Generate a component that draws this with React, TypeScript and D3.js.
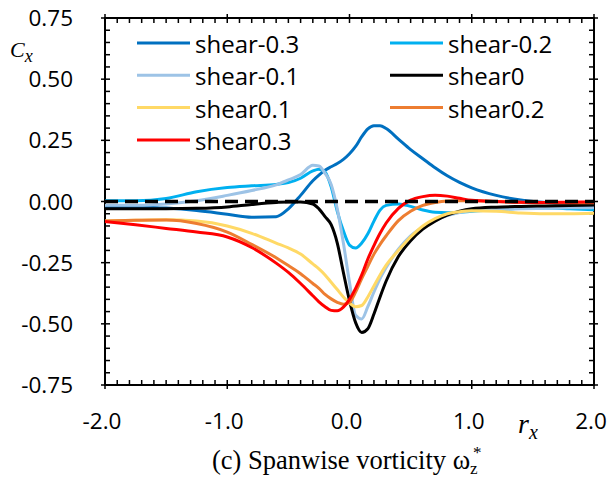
import React, { useEffect, useRef } from "react";
import * as d3 from "d3";

// r_x positions where curves were sampled
const rx = [
  -2, -1.75, -1.5, -1.25, -1.0, -0.8, -0.6, -0.5, -0.4, -0.3, -0.25, -0.2, -0.15, -0.1, -0.05, 0, 0.05, 0.1, 0.15,
  0.2, 0.25, 0.3, 0.4, 0.5, 0.6, 0.7, 0.8, 0.9, 1.0, 1.2, 1.4, 1.6, 1.8, 2.0,
];

const shearM03 = [
  -0.02, -0.022, -0.027, -0.037, -0.052, -0.064, -0.062, -0.03, 0.025, 0.085, 0.108, 0.128, 0.142, 0.155, 0.172, 0.195,
  0.225, 0.265, 0.297, 0.31, 0.31, 0.298, 0.255, 0.212, 0.175, 0.138, 0.105, 0.078, 0.056, 0.025, 0.006, -0.004, -0.012,
  -0.02,
];
const shearM02 = [
  0.003, 0.003, 0.012, 0.04, 0.057, 0.064, 0.07, 0.077, 0.095, 0.125, 0.132, 0.12, 0.06, -0.04, -0.12, -0.178, -0.19,
  -0.17, -0.132, -0.08, -0.035, -0.016, -0.01, -0.02, -0.035, -0.044, -0.046, -0.044, -0.04, -0.034, -0.028, -0.027,
  -0.03, -0.034,
];
const shearM01 = [
  -0.015, -0.015, -0.01, 0.003, 0.025, 0.045, 0.068, 0.088, 0.11, 0.148, 0.145, 0.115, 0.07, -0.03, -0.17, -0.33,
  -0.465, -0.48, -0.43, -0.37, -0.315, -0.27, -0.195, -0.14, -0.105, -0.078, -0.058, -0.045, -0.038, -0.033, -0.03,
  -0.028, -0.026, -0.025,
];
const shear0 = [
  -0.03, -0.03, -0.03, -0.028, -0.022, -0.012, -0.004, -0.002, -0.002, -0.01, -0.03, -0.062, -0.095, -0.17, -0.29,
  -0.405, -0.495, -0.535, -0.52, -0.46, -0.39, -0.325, -0.225, -0.16, -0.113, -0.08, -0.056, -0.04, -0.03, -0.023,
  -0.02, -0.018, -0.016, -0.014,
];
const shearP01 = [
  -0.08, -0.077, -0.075, -0.08, -0.1, -0.13, -0.17, -0.19, -0.215, -0.255, -0.275, -0.3, -0.33, -0.36, -0.39, -0.415,
  -0.43, -0.425, -0.39, -0.345, -0.3, -0.26, -0.2, -0.145, -0.1, -0.07, -0.05, -0.042, -0.038, -0.04, -0.047, -0.05,
  -0.05, -0.048,
];
const shearP02 = [
  -0.08, -0.077, -0.076, -0.09, -0.125, -0.175, -0.23, -0.262, -0.295, -0.335, -0.355, -0.38, -0.398, -0.412, -0.42,
  -0.412, -0.37, -0.315, -0.265, -0.215, -0.175, -0.14, -0.078, -0.04, -0.016, -0.004, 0.002, 0.003, 0.003, 0.0,
  -0.003, -0.005, -0.005, -0.005,
];
const shearP03 = [
  -0.082, -0.095, -0.11, -0.125, -0.145, -0.188, -0.252, -0.29, -0.335, -0.385, -0.41, -0.43, -0.445, -0.447, -0.432,
  -0.4, -0.355, -0.3, -0.235, -0.18, -0.13, -0.088, -0.028, 0.006, 0.02, 0.026, 0.022, 0.013, 0.005, 0.0, -0.003,
  -0.004, -0.003, -0.002,
];

const seriesNames = ["shear-0.3", "shear-0.2", "shear-0.1", "shear0", "shear0.1", "shear0.2", "shear0.3"];
const seriesValues = [shearM03, shearM02, shearM01, shear0, shearP01, shearP02, shearP03];
const seriesColors = ["#0070C0", "#00B0F0", "#9DC3E6", "#000000", "#FFD966", "#ED7D31", "#FF0000"];

const xTicks = [-2, -1, 0, 1, 2];
const yTicks = [0.75, 0.5, 0.25, 0, -0.25, -0.5, -0.75];

const App = () => {
  const ref = useRef<SVGSVGElement>(null);

  useEffect(() => {
    const svg = d3.select(ref.current);
    svg.selectAll("*").remove();

    const left = 105,
      right = 594,
      top = 18,
      bottom = 385;
    const x = d3.scaleLinear().domain([-2, 2]).range([left, right]);
    const y = d3.scaleLinear().domain([-0.75, 0.75]).range([bottom, top]);
    const font = "'Open Sans', sans-serif";
    const fmt = (d: number, n: number) => d.toFixed(n); // plain hyphen minus like Excel

    // frame
    svg
      .append("rect")
      .attr("x", left)
      .attr("y", top)
      .attr("width", right - left)
      .attr("height", bottom - top)
      .attr("fill", "none")
      .attr("stroke", "#000")
      .attr("stroke-width", 2);

    // tick marks on all four sides, pointing inward
    const ticks = svg.append("g").attr("stroke", "#000").attr("stroke-width", 1.5);
    d3.range(0, 41).forEach((i) => {
      const v = -2 + i * 0.1;
      const major = i % 10 === 0;
      const px = x(v);
      ticks.append("line").attr("x1", px).attr("x2", px).attr("y1", bottom + (major ? 4 : 0)).attr("y2", bottom - 5);
      ticks.append("line").attr("x1", px).attr("x2", px).attr("y1", top - (major ? 4 : 0)).attr("y2", top + 5);
    });
    d3.range(0, 31).forEach((i) => {
      const v = -0.75 + i * 0.05;
      const major = i % 5 === 0;
      const py = y(v);
      ticks.append("line").attr("y1", py).attr("y2", py).attr("x1", left - (major ? 4 : 0)).attr("x2", left + 5);
      ticks.append("line").attr("y1", py).attr("y2", py).attr("x1", right + (major ? 4 : 0)).attr("x2", right - 5);
    });

    // tick labels
    svg
      .append("g")
      .selectAll("text")
      .data(yTicks)
      .join("text")
      .attr("x", 73)
      .attr("y", (d) => y(d) + 8)
      .attr("text-anchor", "end")
      .style("font-family", font)
      .style("font-size", "22.5px")
      .text((d) => fmt(d, 2));

    svg
      .append("g")
      .selectAll("text")
      .data(xTicks)
      .join("text")
      .attr("x", (d) => x(d) - 3)
      .attr("y", 429)
      .attr("text-anchor", "middle")
      .style("font-family", font)
      .style("font-size", "22.5px")
      .text((d) => fmt(d, 1));

    // curves
    const line = d3
      .line<number>()
      .x((d, i) => x(rx[i]))
      .y((d) => y(d))
      .curve(d3.curveMonotoneX);

    seriesValues.forEach((vals, k) => {
      svg
        .append("path")
        .attr("d", line(vals))
        .attr("fill", "none")
        .attr("stroke", seriesColors[k])
        .attr("stroke-width", 3)
        .attr("stroke-linejoin", "round");
    });

    // zero reference line
    svg
      .append("line")
      .attr("x1", x(-2))
      .attr("x2", x(2))
      .attr("y1", y(0))
      .attr("y2", y(0))
      .attr("stroke", "#000")
      .attr("stroke-width", 3.5)
      .attr("stroke-dasharray", "13,7");

    // legend
    const legend = svg.append("g");
    seriesNames.forEach((name, k) => {
      const col = k % 2;
      const row = Math.floor(k / 2);
      const lx = col === 0 ? 137 : 390;
      const ly = 43 + row * 32.3;
      legend
        .append("line")
        .attr("x1", lx)
        .attr("x2", lx + 53)
        .attr("y1", ly)
        .attr("y2", ly)
        .attr("stroke", seriesColors[k])
        .attr("stroke-width", 3);
      legend
        .append("text")
        .attr("x", lx + 58)
        .attr("y", ly + 10)
        .style("font-family", font)
        .style("font-size", "24px")
        .text(name);
    });

    // axis titles
    const cx = svg
      .append("text")
      .attr("x", 10)
      .attr("y", 57)
      .style("font-family", "'Liberation Serif', serif")
      .style("font-style", "italic")
      .style("font-size", "22px");
    cx.append("tspan").text("C");
    cx.append("tspan").attr("dy", 5).style("font-size", "18px").text("x");

    const rxLabel = svg
      .append("text")
      .attr("x", 518)
      .attr("y", 433)
      .style("font-family", "'Liberation Serif', serif")
      .style("font-style", "italic")
      .style("font-size", "28px");
    rxLabel.append("tspan").text("r");
    rxLabel.append("tspan").attr("dy", 6).style("font-size", "20px").text("x");

    // caption: ω with * above and z below
    const cap = svg
      .append("text")
      .attr("x", 212)
      .attr("y", 469)
      .style("font-family", "'Liberation Serif', serif")
      .style("font-size", "26.5px");
    cap.append("tspan").text("(c) Spanwise vorticity ω");
    cap.append("tspan").attr("dy", 5).style("font-size", "17px").text("z");
    svg
      .append("text")
      .attr("x", 473)
      .attr("y", 458)
      .style("font-family", "'Liberation Serif', serif")
      .style("font-size", "17px")
      .text("*");
  }, []);

  return (
    <svg
      ref={ref}
      width={609}
      height={479}
      style={{ position: "absolute", left: 0, top: 0, background: "#fff" }}
    />
  );
};

export default App;
